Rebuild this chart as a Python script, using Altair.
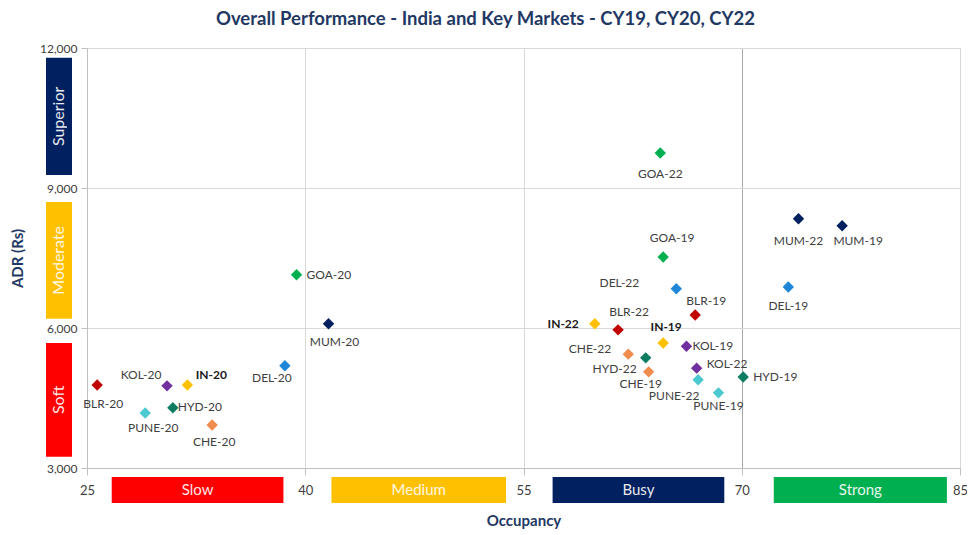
import altair as alt
import pandas as pd

# ---- data ----
labels = ["BLR-20", "KOL-20", "IN-20", "HYD-20", "PUNE-20", "CHE-20", "DEL-20", "GOA-20", "MUM-20",
          "GOA-22", "GOA-19", "DEL-22", "BLR-19", "BLR-22", "IN-22", "IN-19", "KOL-19", "CHE-22",
          "HYD-22", "CHE-19", "KOL-22", "PUNE-22", "PUNE-19", "HYD-19", "MUM-22", "MUM-19", "DEL-19"]
cities = ["BLR", "KOL", "IN", "HYD", "PUNE", "CHE", "DEL", "GOA", "MUM",
          "GOA", "GOA", "DEL", "BLR", "BLR", "IN", "IN", "KOL", "CHE",
          "HYD", "CHE", "KOL", "PUNE", "PUNE", "HYD", "MUM", "MUM", "DEL"]
occupancy = [25.7, 30.5, 31.9, 30.9, 29.0, 33.6, 38.6, 39.4, 41.6,
             64.4, 64.6, 65.5, 66.8, 61.5, 59.9, 64.6, 66.2, 62.2,
             63.4, 63.6, 66.9, 67.0, 68.4, 70.1, 73.9, 76.9, 73.2]
adr = [4780, 4760, 4780, 4290, 4180, 3920, 5190, 7140, 6090,
       9750, 7520, 6840, 6280, 5960, 6090, 5680, 5610, 5440,
       5360, 5060, 5140, 4890, 4610, 4950, 8340, 8190, 6880]

city_names = ["BLR", "KOL", "IN", "HYD", "PUNE", "CHE", "DEL", "GOA", "MUM"]
city_colors = ["#C00000", "#7030A0", "#FFC000", "#0E7C61", "#4CC9D0", "#F08C4E", "#1F86D8", "#00B050", "#002060"]

occ_band_names = ["Slow", "Medium", "Busy", "Strong"]
occ_band_low = [26.7, 41.8, 57.0, 72.2]
occ_band_high = [38.5, 53.8, 68.8, 84.1]
occ_band_colors = ["#FF0000", "#FFC000", "#002060", "#00B050"]

adr_band_names = ["Soft", "Moderate", "Superior"]
adr_band_low = [3240, 6200, 9280]
adr_band_high = [5680, 8700, 11790]
adr_band_colors = ["#FF0000", "#FFC000", "#002060"]

bold_labels = ["IN-20", "IN-22", "IN-19"]

# label placement (dx, dy, align) in pixels
label_pos = {
    "BLR-20": (6, 19, "center"), "KOL-20": (-26, -11, "center"), "IN-20": (24, -10, "center"),
    "HYD-20": (5, -1, "left"), "PUNE-20": (8, 15, "center"), "CHE-20": (2, 17, "center"),
    "DEL-20": (-13, 12, "center"), "GOA-20": (10, 0, "left"), "MUM-20": (6, 18, "center"),
    "GOA-22": (0, 21, "center"), "GOA-19": (9, -19, "center"), "DEL-22": (-37, -6, "right"),
    "BLR-19": (11, -14, "center"), "BLR-22": (11, -18, "center"), "IN-22": (-16, 0, "right"),
    "IN-19": (3, -16, "center"), "KOL-19": (6, 0, "left"), "CHE-22": (-17, -5, "right"),
    "HYD-22": (-9, 11, "right"), "CHE-19": (-8, 12, "center"), "KOL-22": (10, -4, "left"),
    "PUNE-22": (-24, 16, "center"), "PUNE-19": (0, 13, "center"), "HYD-19": (10, 0, "left"),
    "MUM-22": (0, 22, "center"), "MUM-19": (16, 15, "center"), "DEL-19": (0, 19, "center"),
}

df = pd.DataFrame({"label": labels, "city": cities, "occ": occupancy, "adr": adr})
occ_df = pd.DataFrame({"name": occ_band_names, "lo": occ_band_low, "hi": occ_band_high, "col": occ_band_colors})
adr_df = pd.DataFrame({"name": adr_band_names, "lo": adr_band_low, "hi": adr_band_high, "col": adr_band_colors})

FONT = "Lato"
NAVY = "#1F3864"
xscale = alt.Scale(domain=[25, 85], nice=False, zero=False)
yscale = alt.Scale(domain=[3000, 12000], nice=False, zero=False)

xaxis = alt.Axis(values=[25, 40, 55, 70, 85], title="Occupancy", grid=True, labelFlush=False,
                 gridColor=alt.condition("datum.value == 70", alt.value("#A6A6A6"), alt.value("#D9D9D9")),
                 domainColor="#BFBFBF", tickColor="#BFBFBF", tickSize=7,
                 labelPadding=9, labelFont=FONT, labelFontSize=13, labelColor="#404040",
                 titleFont=FONT, titleFontSize=15, titleFontWeight="bold", titleColor=NAVY,
                 titlePadding=16)
yaxis = alt.Axis(values=[3000, 6000, 9000, 12000], format=",d", title="ADR (Rs)", grid=True,
                 gridColor="#D9D9D9", domainColor="#BFBFBF", tickColor="#BFBFBF", tickSize=6,
                 labelPadding=4, labelFont=FONT, labelFontSize=12, labelColor="#404040",
                 titleFont=FONT, titleFontSize=15, titleFontWeight="bold", titleColor=NAVY,
                 titlePadding=14)

points = alt.Chart(df).mark_point(shape="diamond", filled=True, size=130, opacity=1).encode(
    x=alt.X("occ:Q", scale=xscale, axis=xaxis, title="Occupancy"),
    y=alt.Y("adr:Q", scale=yscale, axis=yaxis, title="ADR (Rs)"),
    color=alt.Color("city:N", scale=alt.Scale(domain=city_names, range=city_colors), legend=None),
)

text_layers = []
for name in labels:
    dx, dy, align = label_pos[name]
    weight = "bold" if name in bold_labels else "normal"
    color = "#1a1a1a" if name in bold_labels else "#404040"
    t = alt.Chart(df).transform_filter(alt.datum.label == name).mark_text(
        dx=dx, dy=dy, align=align, baseline="middle", font=FONT, fontSize=12,
        fontWeight=weight, color=color
    ).encode(
        x=alt.X("occ:Q", scale=xscale, title="Occupancy"),
        y=alt.Y("adr:Q", scale=yscale, title="ADR (Rs)"),
        text="label:N",
    )
    text_layers.append(t)

occ_rects = alt.Chart(occ_df).mark_rect().encode(
    x=alt.X("lo:Q", scale=xscale, title="Occupancy"), x2="hi:Q",
    y=alt.value(429), y2=alt.value(455),
    color=alt.Color("col:N", scale=None),
)
occ_text = alt.Chart(occ_df).transform_calculate(mid="(datum.lo + datum.hi) / 2").mark_text(
    font=FONT, fontSize=15, color="white", baseline="middle", opacity=0.9
).encode(
    x=alt.X("mid:Q", scale=xscale, title="Occupancy"),
    y=alt.value(442), text="name:N",
)

adr_rects = alt.Chart(adr_df).mark_rect().encode(
    y=alt.Y("lo:Q", scale=yscale, title="ADR (Rs)"), y2="hi:Q",
    x=alt.value(-41), x2=alt.value(-15),
    color=alt.Color("col:N", scale=None),
)
adr_text = alt.Chart(adr_df).transform_calculate(mid="(datum.lo + datum.hi) / 2").mark_text(
    font=FONT, fontSize=16, color="white", baseline="middle", align="center", angle=270, opacity=0.9
).encode(
    y=alt.Y("mid:Q", scale=yscale, title="ADR (Rs)"),
    x=alt.value(-28), text="name:N",
)

chart = alt.layer(points, occ_rects, occ_text, adr_rects, adr_text, *text_layers).properties(
    width=873, height=420,
    title=alt.TitleParams("Overall Performance - India and Key Markets - CY19, CY20, CY22",
                          font=FONT, fontSize=18.5, fontWeight="bold", color=NAVY,
                          anchor="middle", dx=-38, offset=14),
    autosize=alt.AutoSizeParams(type="none"),
    padding={"left": 79, "top": 40, "right": 7, "bottom": 66},
).configure_view(stroke=None).configure(background="white")

chart.save("out.html", embed_options={"renderer": "svg", "actions": False})
